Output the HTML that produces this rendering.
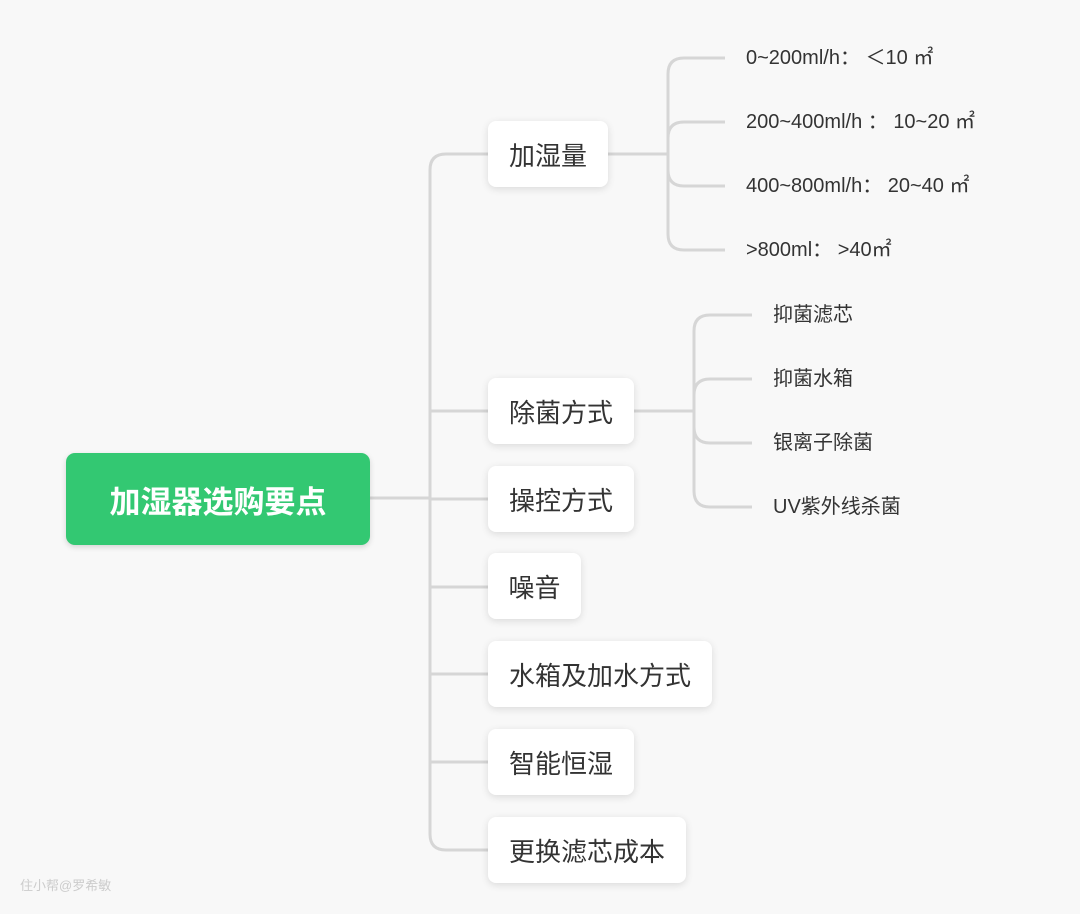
<!DOCTYPE html>
<html><head><meta charset="utf-8"><style>
body{margin:0;width:1080px;height:914px;background:#f8f8f8;position:relative;overflow:hidden;font-family:"Liberation Sans","Noto Sans CJK SC",sans-serif;}
.n{position:absolute;background:#fff;border-radius:8px;box-shadow:0 2px 8px rgba(0,0,0,0.12);color:#333;font-size:26px;display:flex;align-items:center;justify-content:center;height:66px;left:488px;}
.t{position:absolute;font-size:20px;color:#333;line-height:22px;}
.root{position:absolute;left:66px;top:453px;width:304px;height:92px;background:#33c872;border-radius:9px;box-shadow:0 2px 6px rgba(0,0,0,0.15);color:#fff;font-size:31px;font-weight:bold;display:flex;align-items:center;justify-content:center;}
svg{position:absolute;left:0;top:0}
</style></head><body>
<svg width="1080" height="914" fill="none" stroke="#d6d6d6" stroke-width="3">
<path d="M370 498H430"/>
<path d="M488 154H446Q430 154 430 170V834Q430 850 446 850H488"/>
<path d="M430 411H488M430 499H488M430 587H488M430 674H488M430 762H488"/>
<path d="M608 154H668"/>
<path d="M725 58H684Q668 58 668 74V234Q668 250 684 250H725"/>
<path d="M668 138Q668 122 684 122H725M668 170Q668 186 684 186H725"/>
<path d="M634 411H694"/>
<path d="M752 315H710Q694 315 694 331V491Q694 507 710 507H752"/>
<path d="M694 395Q694 379 710 379H752M694 427Q694 443 710 443H752"/>
</svg>
<div class="root">加湿器选购要点</div>
<div class="n" style="top:121px;width:120px">加湿量</div>
<div class="n" style="top:378px;width:146px">除菌方式</div>
<div class="n" style="top:466px;width:146px">操控方式</div>
<div class="n" style="top:553px;width:93px">噪音</div>
<div class="n" style="top:641px;width:224px">水箱及加水方式</div>
<div class="n" style="top:729px;width:146px">智能恒湿</div>
<div class="n" style="top:817px;width:198px">更换滤芯成本</div>
<div class="t" style="left:746px;top:47px">0~200ml/h： ＜10 ㎡</div>
<div class="t" style="left:746px;top:111px">200~400ml/h ： 10~20 ㎡</div>
<div class="t" style="left:746px;top:175px">400~800ml/h： 20~40 ㎡</div>
<div class="t" style="left:746px;top:239px">&gt;800ml： &gt;40㎡</div>
<div class="t" style="left:773px;top:304px">抑菌滤芯</div>
<div class="t" style="left:773px;top:368px">抑菌水箱</div>
<div class="t" style="left:773px;top:432px">银离子除菌</div>
<div class="t" style="left:773px;top:496px">UV紫外线杀菌</div>
<div class="t" style="left:20px;top:875px;font-size:13px;color:#ccc">住小帮@罗希敏</div>
</body></html>
